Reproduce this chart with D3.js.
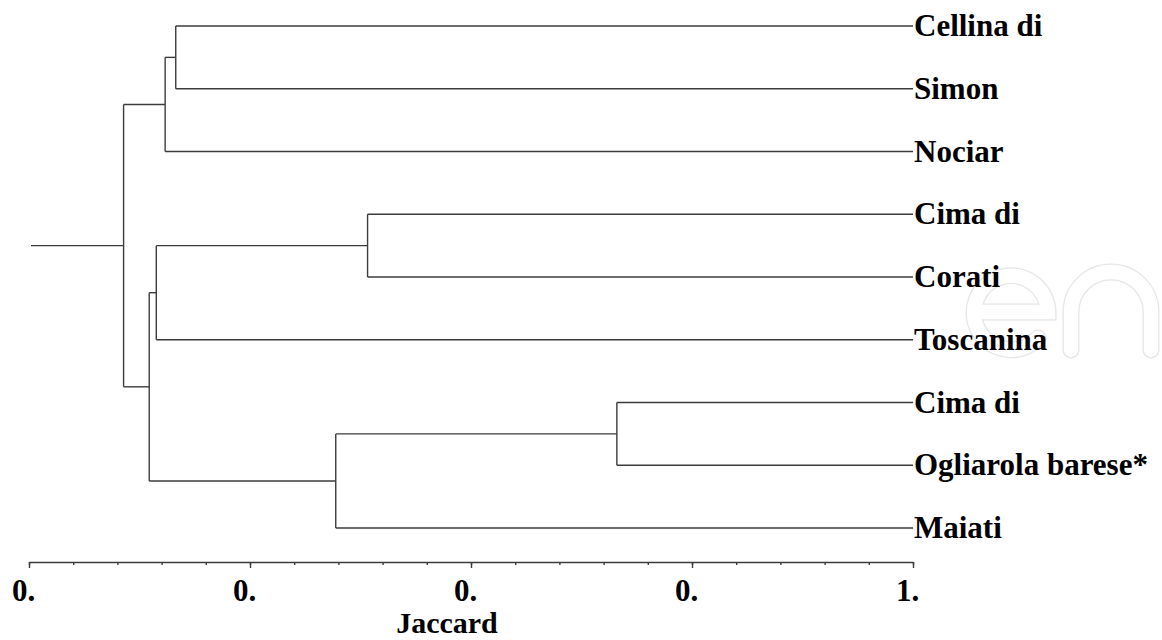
<!DOCTYPE html>
<html>
<head>
<meta charset="utf-8">
<script src="https://cdn.jsdelivr.net/npm/d3@7"></script>
<style>
  body { margin: 0; background: #fff; }
  svg { display: block; }
  .link { fill: none; stroke: #3c3c3c; stroke-width: 1.4; }
  .label, .axis text, .title { font-family: "Liberation Serif", "DejaVu Serif", serif; font-weight: bold; fill: #000; }
</style>
</head>
<body>
<div id="chart"></div>
<script>
// leaves, top to bottom
var leafNames = ["Cellina di", "Simon", "Nociar", "Cima di", "Corati", "Toscanina", "Cima di", "Ogliarola barese*", "Maiati"];

// merges, linkage style: ids 0-8 are leaves, merge i gets id 9+i
var mergeLeft   = [0, 9, 3, 11, 6, 13, 12, 10];
var mergeRight  = [1, 2, 4, 5, 7, 8, 14, 15];
var mergeHeight = [0.166, 0.154, 0.383, 0.144, 0.665, 0.347, 0.136, 0.107];

var tickValues = [0, 0.25, 0.5, 0.75, 1];
var tickLabels = ["0.", "0.", "0.", "0.", "1."];
var axisTitle = "Jaccard";

var width = 1162, height = 640;

var svg = d3.select("#chart").append("svg")
    .attr("width", width)
    .attr("height", height);

// faint watermark
var wm = svg.append("g").attr("fill", "none").attr("stroke-linecap", "round");
var wmPaths = [
    "M983,312 H1048 A37,37 0 1 0 1038,338",
    "M1071,350 V312 A40,40 0 0 1 1151,312 V350"
];
wm.selectAll(".wo").data(wmPaths).enter().append("path")
    .attr("d", function(d) { return d; })
    .attr("stroke", "#e6e6e6").attr("stroke-width", 17);
wm.selectAll(".wi").data(wmPaths).enter().append("path")
    .attr("d", function(d) { return d; })
    .attr("stroke", "#fff").attr("stroke-width", 14.4);

// build the tree
var nodes = leafNames.map(function(name, i) {
    return { id: i, name: name, h: 1, children: null };
});
mergeHeight.forEach(function(h, i) {
    nodes.push({ id: 9 + i, h: h, children: [nodes[mergeLeft[i]], nodes[mergeRight[i]]] });
});
var root = d3.hierarchy(nodes[nodes.length - 1]);

var x = d3.scaleLinear().domain([0, 1]).range([29, 913]);
var y = d3.scalePoint().domain(d3.range(leafNames.length)).range([26, 528]);

// leaves evenly, parents at mean of children
root.eachAfter(function(d) {
    if (!d.children) d.py = y(d.data.id);
    else d.py = d3.mean(d.children, function(c) { return c.py; });
});

var g = svg.append("g");

root.descendants().forEach(function(d) {
    if (!d.children) return;
    var xp = x(d.data.h);
    g.append("line").attr("class", "link")
        .attr("x1", xp).attr("x2", xp)
        .attr("y1", d.children[0].py).attr("y2", d.children[1].py);
    d.children.forEach(function(c) {
        g.append("line").attr("class", "link")
            .attr("x1", xp).attr("x2", x(c.data.h))
            .attr("y1", c.py).attr("y2", c.py);
    });
});

// root stub
g.append("line").attr("class", "link")
    .attr("x1", x(0) + 2).attr("x2", x(root.data.h))
    .attr("y1", root.py).attr("y2", root.py);

// leaf labels
g.selectAll(".label")
    .data(root.leaves())
    .enter()
    .append("text")
    .attr("class", "label")
    .attr("x", x(1) + 1)
    .attr("y", function(d) { return d.py; })
    .attr("dy", "0.33em")
    .attr("font-size", 31)
    .text(function(d) { return d.data.name; });

// axis
var axisY = 562;
svg.append("g")
    .attr("class", "axis minor")
    .attr("transform", "translate(0," + axisY + ")")
    .call(d3.axisBottom(x).ticks(20).tickSize(3).tickSizeOuter(0).tickFormat(""))
    .call(function(a) {
        a.select(".domain").attr("stroke", "#3c3c3c").attr("stroke-width", 1.6);
        a.selectAll(".tick line").attr("stroke", "#3c3c3c").attr("stroke-width", 1.4);
    });

svg.append("g")
    .attr("class", "axis major")
    .attr("transform", "translate(0," + axisY + ")")
    .call(d3.axisBottom(x).tickValues(tickValues).tickSize(6).tickSizeOuter(0)
        .tickFormat(function(d, i) { return tickLabels[i]; }))
    .call(function(a) {
        a.select(".domain").remove();
        a.selectAll(".tick line").attr("stroke", "#3c3c3c").attr("stroke-width", 1.4);
        a.selectAll(".tick text")
            .attr("y", 39).attr("dy", 0).attr("dx", -6)
            .attr("font-size", 31);
    });

svg.append("text")
    .attr("class", "title")
    .attr("x", 447)
    .attr("y", 633)
    .attr("text-anchor", "middle")
    .attr("font-size", 30)
    .text(axisTitle);
</script>
</body>
</html>
